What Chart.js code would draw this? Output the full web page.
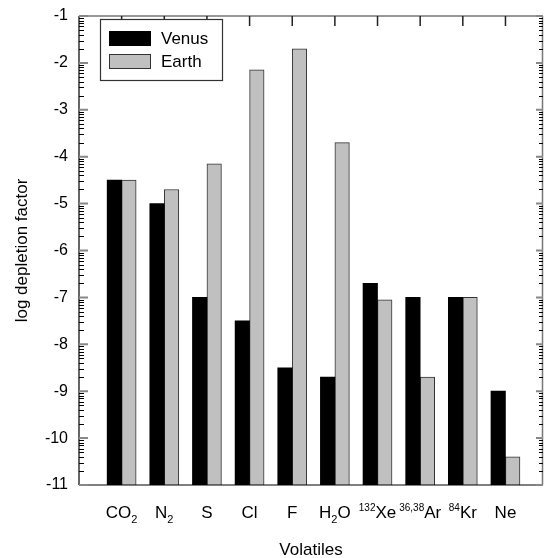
<!DOCTYPE html>
<html>
<head>
<meta charset="utf-8">
<script src="https://cdn.jsdelivr.net/npm/chart.js@4/dist/chart.umd.min.js"></script>
<style>
  html, body { margin: 0; padding: 0; background: #fff; }
  #wrap { width: 544px; height: 558px; }
</style>
</head>
<body>
<div id="wrap"><canvas id="c" width="544" height="558"></canvas></div>
<script>
// ---- data ----
const categories = ['CO_{2}', 'N_{2}', 'S', 'Cl', 'F', 'H_{2}O', '^{132}Xe', '^{36,38}Ar', '^{84}Kr', 'Ne'];
const venus = [-4.5, -5.0, -7.0, -7.5, -8.5, -8.7, -6.7, -7.0, -7.0, -9.0];
const earth = [-4.5, -4.7, -4.15, -2.15, -1.7, -3.7, -7.05, -8.7, -7.0, -10.4];
const seriesNames = ['Venus', 'Earth'];
const yTicks = [-1, -2, -3, -4, -5, -6, -7, -8, -9, -10, -11];
const yTitle = 'log depletion factor';
const xTitle = 'Volatiles';

const FONT = 'Arial, "Liberation Sans", Helvetica, sans-serif';

function parseLabel(s) {
  const parts = [];
  const re = /(_\{[^}]*\}|\^\{[^}]*\})/g;
  let last = 0, m;
  while ((m = re.exec(s)) !== null) {
    if (m.index > last) parts.push({ t: s.slice(last, m.index), k: 'n' });
    parts.push({ t: m[0].slice(2, -1), k: m[0][0] === '_' ? 'sub' : 'sup' });
    last = m.index + m[0].length;
  }
  if (last < s.length) parts.push({ t: s.slice(last), k: 'n' });
  return parts;
}

const decor = {
  id: 'decor',
  afterDraw(chart) {
    const ctx = chart.ctx;
    const a = chart.chartArea;
    const xs = chart.scales.x, ys = chart.scales.y;
    ctx.save();

    // frame
    ctx.lineCap = 'butt';
    ctx.strokeStyle = '#777';
    ctx.lineWidth = 1.5;
    ctx.beginPath();
    ctx.moveTo(a.left, a.top); ctx.lineTo(a.right, a.top);
    ctx.moveTo(a.right - 0.5, a.top); ctx.lineTo(a.right - 0.5, a.bottom);
    ctx.stroke();
    ctx.strokeStyle = '#000';
    ctx.lineWidth = 1.2;
    ctx.beginPath();
    ctx.moveTo(a.left, a.top); ctx.lineTo(a.left, a.bottom);
    ctx.moveTo(a.left, a.bottom); ctx.lineTo(a.right, a.bottom);
    ctx.stroke();

    // y minor ticks (log-style subdivisions)
    ctx.strokeStyle = '#000';
    ctx.lineWidth = 1;
    ctx.beginPath();
    for (let n = -11; n < -1; n++) {
      for (let k = 2; k <= 9; k++) {
        const py = Math.round(ys.getPixelForValue(n + Math.log10(k))) + 0.5;
        ctx.moveTo(a.left, py); ctx.lineTo(a.left + 5, py);
        ctx.moveTo(a.right, py); ctx.lineTo(a.right - 4, py);
      }
    }
    ctx.stroke();

    // y major ticks
    ctx.strokeStyle = '#888';
    ctx.lineWidth = 2;
    ctx.beginPath();
    yTicks.forEach(v => {
      const py = ys.getPixelForValue(v);
      ctx.moveTo(a.left, py); ctx.lineTo(a.left + 9, py);
      ctx.moveTo(a.right, py); ctx.lineTo(a.right - 7, py);
    });
    ctx.stroke();

    // top ticks at categories
    ctx.strokeStyle = '#222';
    ctx.lineWidth = 1.5;
    ctx.beginPath();
    categories.forEach((c, i) => {
      const px = xs.getPixelForValue(i + 1);
      ctx.moveTo(px, a.top); ctx.lineTo(px, a.top + 10);
    });
    ctx.stroke();

    // y tick labels
    ctx.fillStyle = '#000';
    ctx.font = '16px ' + FONT;
    ctx.textAlign = 'right';
    ctx.textBaseline = 'middle';
    yTicks.forEach(v => {
      ctx.fillText(String(v), a.left - 11, ys.getPixelForValue(v));
    });

    // x category labels with sub/superscripts
    const base = 518;
    categories.forEach((c, i) => {
      const cx = xs.getPixelForValue(i + 1);
      const parts = parseLabel(c);
      let total = 0;
      parts.forEach(p => {
        ctx.font = (p.k === 'n' ? '17px ' : (p.k === 'sub' ? '11px ' : '10px ')) + FONT;
        p.w = ctx.measureText(p.t).width;
        total += p.w;
      });
      let x = cx - total / 2;
      ctx.textAlign = 'left';
      ctx.textBaseline = 'alphabetic';
      parts.forEach(p => {
        ctx.font = (p.k === 'n' ? '17px ' : (p.k === 'sub' ? '11px ' : '10px ')) + FONT;
        const dy = p.k === 'sub' ? 5 : (p.k === 'sup' ? -7 : 0);
        ctx.fillText(p.t, x, base + dy);
        x += p.w;
      });
    });

    // axis titles
    ctx.font = '17px ' + FONT;
    ctx.textAlign = 'center';
    ctx.textBaseline = 'alphabetic';
    ctx.fillText(xTitle, (a.left + a.right) / 2, 555);
    ctx.save();
    ctx.translate(27, (a.top + a.bottom) / 2);
    ctx.rotate(-Math.PI / 2);
    ctx.fillText(yTitle, 0, 0);
    ctx.restore();

    // legend
    const lx = a.left + 21, ly = a.top + 3, lw = 122, lh = 61;
    ctx.fillStyle = '#fff';
    ctx.fillRect(lx, ly, lw, lh);
    ctx.strokeStyle = '#333';
    ctx.lineWidth = 1.2;
    ctx.strokeRect(lx + 0.5, ly + 0.5, lw, lh);
    chart.data.datasets.forEach((ds, i) => {
      const sy = ly + 12 + i * 23;
      ctx.fillStyle = ds.backgroundColor;
      ctx.fillRect(lx + 9, sy, 42, 15);
      if (ds.borderWidth) {
        ctx.strokeStyle = ds.borderColor;
        ctx.lineWidth = 1;
        ctx.strokeRect(lx + 9.5, sy + 0.5, 41, 14);
      }
      ctx.fillStyle = '#000';
      ctx.font = '17px ' + FONT;
      ctx.textAlign = 'left';
      ctx.textBaseline = 'middle';
      ctx.fillText(ds.label, lx + 61, sy + 8);
    });

    ctx.restore();
  }
};

new Chart(document.getElementById('c'), {
  type: 'bar',
  data: {
    datasets: [
      {
        label: seriesNames[0],
        data: venus.map((v, i) => ({ x: i + 1, y: v })),
        backgroundColor: '#000000',
        borderWidth: 0,
        base: -11,
        barThickness: 14.5
      },
      {
        label: seriesNames[1],
        data: earth.map((v, i) => ({ x: i + 1, y: v })),
        backgroundColor: '#c0c0c0',
        borderColor: '#333333',
        borderWidth: 1,
        base: -11,
        barThickness: 14.5
      }
    ]
  },
  options: {
    responsive: false,
    devicePixelRatio: 1,
    animation: false,
    layout: { padding: { left: 79, top: 16, right: 1, bottom: 73 } },
    scales: {
      x: { type: 'linear', min: 0, max: 10.88, offset: false, display: false },
      y: { type: 'linear', min: -11, max: -1, display: false }
    },
    plugins: {
      legend: { display: false },
      tooltip: { enabled: false }
    }
  },
  plugins: [decor]
});
</script>
</body>
</html>
